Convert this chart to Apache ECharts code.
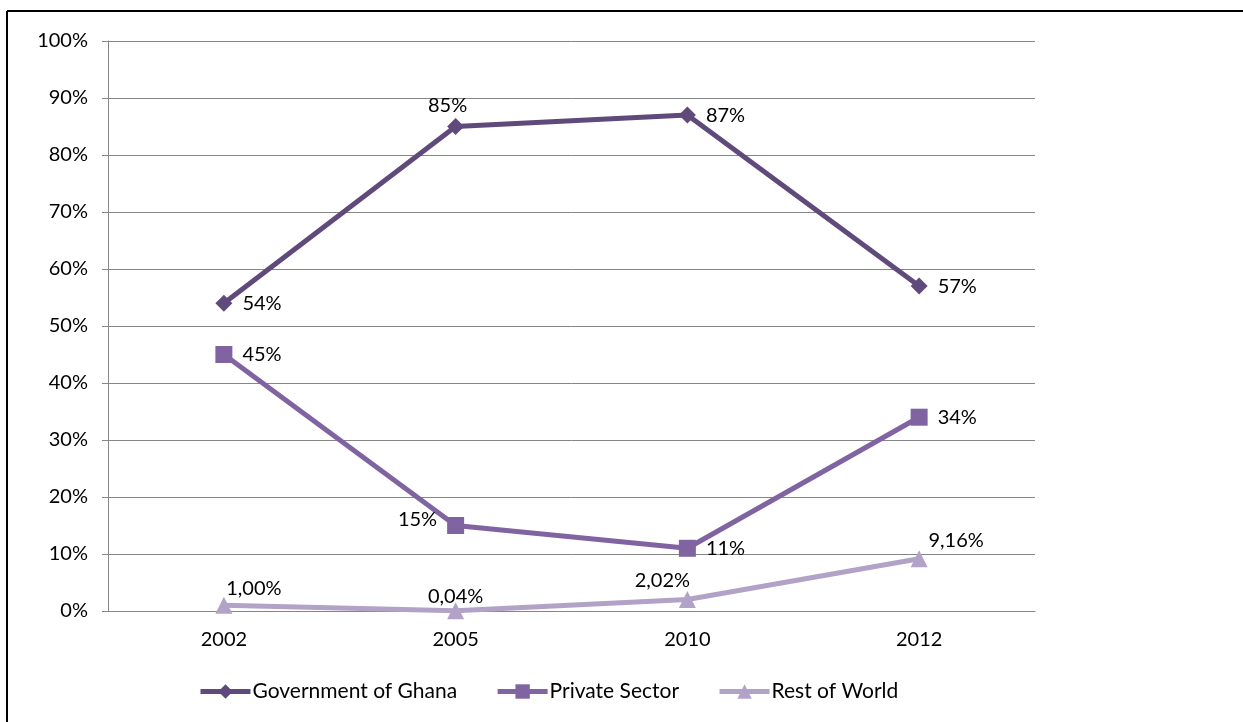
<!DOCTYPE html>
<html>
<head>
<meta charset="utf-8">
<script src="https://cdn.jsdelivr.net/npm/echarts@6/dist/echarts.min.js"></script>
<style>
  html, body { margin: 0; padding: 0; background: #fff; }
  #chart { width: 1243px; height: 722px; }
</style>
</head>
<body>
<div id="chart"></div>
<script>
// Shares of funding by source, in percent
const years = ['2002', '2005', '2010', '2012'];
const governmentOfGhana = [54, 85, 87, 57];
const privateSector = [45, 15, 11, 34];
const restOfWorld = [1.00, 0.04, 2.02, 9.16];

const FONT = 'Lato';
const FS = 20;
const pct = v => v + '%';
const pctComma = v => v.toFixed(2).replace('.', ',') + '%';

// label placement per point: [position, dx, dy]
const govPlace = [['right', 0, 0], ['top', -8, 8], ['right', 0, 0], ['right', 0, 0]];
const privPlace = [['right', 0, 0], ['left', 0, -6], ['right', 0, 0], ['right', 0, 0]];
const restPlace = [['top', 30, 12], ['top', 0, 14], ['top', -25, 10], ['top', 37, 10]];

function withLabels(values, places, fmt) {
  return values.map((v, i) => ({
    value: v,
    label: {
      position: places[i][0],
      offset: [places[i][1], places[i][2]],
      formatter: () => fmt(v)
    }
  }));
}

const labelStyle = { show: true, color: '#000', fontFamily: FONT, fontSize: FS, distance: 10 };

const chart = echarts.init(document.getElementById('chart'));
chart.setOption({
  animation: false,
  textStyle: { fontFamily: FONT },
  grid: { left: 108, right: 208, top: 41, bottom: 111 },
  graphic: [
    { type: 'line', shape: { x1: 7, y1: 11, x2: 1243, y2: 11 }, style: { stroke: '#000', lineWidth: 2 } },
    { type: 'line', shape: { x1: 7, y1: 11, x2: 7, y2: 722 }, style: { stroke: '#000', lineWidth: 2 } }
  ],
  xAxis: {
    type: 'category',
    data: years,
    boundaryGap: true,
    axisLine: { lineStyle: { color: '#868686', width: 1 } },
    axisTick: { show: false },
    axisLabel: { color: '#000', fontFamily: FONT, fontSize: FS, margin: 19 }
  },
  yAxis: {
    type: 'value',
    min: 0, max: 100, interval: 10,
    axisLine: { show: true, lineStyle: { color: '#868686', width: 1 } },
    axisTick: { show: true, length: 6, lineStyle: { color: '#868686' } },
    splitLine: { lineStyle: { color: '#868686', width: 1 } },
    axisLabel: { color: '#000', fontFamily: FONT, fontSize: FS, margin: 20, formatter: '{value}%' }
  },
  legend: {
    top: 676,
    left: 193,
    itemWidth: 50,
    itemHeight: 18,
    itemGap: 38,
    lineStyle: { width: 5 },
    textStyle: { color: '#000', fontFamily: FONT, fontSize: 21, padding: [0, 0, 0, -3] },
    data: ['Government of Ghana', 'Private Sector', 'Rest of World']
  },
  series: [
    {
      name: 'Government of Ghana',
      type: 'line',
      data: withLabels(governmentOfGhana, govPlace, pct),
      color: '#604A7B',
      lineStyle: { width: 5 },
      symbol: 'diamond', symbolSize: 17,
      label: labelStyle
    },
    {
      name: 'Private Sector',
      type: 'line',
      data: withLabels(privateSector, privPlace, pct),
      color: '#8064A2',
      lineStyle: { width: 5 },
      symbol: 'rect', symbolSize: 17,
      label: labelStyle
    },
    {
      name: 'Rest of World',
      type: 'line',
      data: withLabels(restOfWorld, restPlace, pctComma),
      color: '#B3A2C7',
      lineStyle: { width: 5 },
      symbol: 'triangle', symbolSize: 17,
      label: labelStyle
    }
  ]
});
</script>
</body>
</html>
